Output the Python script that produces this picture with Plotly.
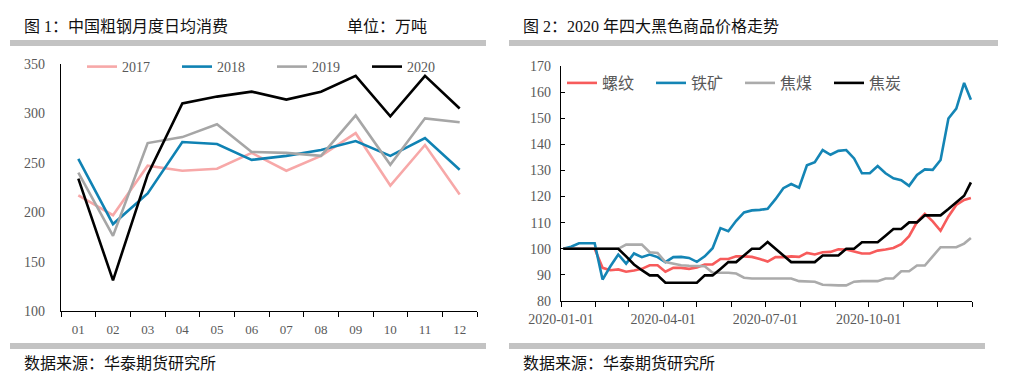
import pandas as pd
import plotly.graph_objects as go

# ---------------- data: figure 1 ----------------
months = ["01", "02", "03", "04", "05", "06", "07", "08", "09", "10", "11", "12"]
s2017 = [217, 197, 247, 242, 244, 260, 242, 257, 280, 227, 268, 218]
s2018 = [254, 188, 219, 271, 269, 253, 257, 263, 272, 257, 275, 243]
s2019 = [240, 176, 270, 276, 289, 261, 260, 257, 298, 248, 295, 291]
s2020 = [234, 131, 238, 310, 317, 322, 314, 322, 338, 297, 338, 305]

# ---------------- data: figure 2 ----------------
dates = list(pd.date_range("2020-01-03", "2020-12-25", freq="7D")) + [pd.Timestamp("2020-12-31")]
rebar = [100, 100, 100, 100, 100,
         92.7, 91.8, 92.1, 91.2, 91.7, 92.3, 93.7, 93.7, 91.2, 92.7, 92.7, 92.3, 92.8,
         94.0, 94.0, 96.1, 96.1, 97.1, 97.1, 96.9, 96.1, 95.1, 96.8, 96.8, 97.1, 96.9, 98.4, 97.8, 98.7, 98.8, 99.8,
         99.7, 99.0, 98.2, 98.2, 99.3, 99.7, 100.3, 101.8, 104.8, 110.2, 113.4, 110.5, 106.9, 112.4, 116.8, 118.7, 119.4]
iron = [100, 100.8, 102.1, 102.1, 102.1,
        88.2, 93.3, 97.8, 94.3, 98.2, 96.8, 97.8, 96.8, 94.9, 96.8, 96.9, 96.5, 95.0,
        97.1, 100.2, 107.9, 106.7, 110.7, 113.9, 114.7, 114.9, 115.3, 119.0, 123.2, 124.8, 123.4, 132.0, 133.2, 137.8, 136.0, 137.5,
        137.8, 134.6, 128.9, 128.9, 131.7, 128.9, 127.0, 126.3, 124.1, 128.3, 130.4, 130.2, 134.0, 149.9, 153.7, 163.5, 157.1]
coal = [100, 100, 100, 100, 100, 100, 100, 100,
        101.6, 101.6, 101.6, 98.7, 98.4, 94.9, 94.3, 93.7, 93.5, 93.5,
        93.3, 90.8, 90.8, 90.8, 90.5, 88.9, 88.6, 88.6, 88.6, 88.6, 88.6, 88.6, 87.6, 87.4, 87.4, 86.2, 86.0, 86.0,
        86.0, 87.4, 87.6, 87.6, 87.6, 88.6, 88.6, 91.4, 91.4, 93.6, 93.6, 97.1, 100.6, 100.6, 100.6, 102.0, 104.1]
coke = [100, 100, 100, 100, 100, 100, 100, 100,
        97.1, 94.0, 91.8, 89.8, 89.8, 87.0, 87.0, 87.0, 87.0, 87.0,
        89.8, 89.8, 92.3, 94.9, 94.9, 97.4, 100, 100, 102.6, 100, 97.4, 94.9, 94.9, 94.9, 94.9, 97.4, 97.4, 97.4,
        100, 100, 102.5, 102.5, 102.5, 105, 107.6, 107.6, 110.1, 110.1, 112.8, 112.8, 112.8, 115.2, 117.7, 120.3, 125.4]

q_ticks = ["2020-01-01", "2020-04-01", "2020-07-01", "2020-10-01"]

# page body has an 8px margin; figure occupies the rest of the 1030x388 window
OFF = 8
W, H = 1030 - OFF, 388 - OFF
def px(x):
    return (x - OFF) / W
def py(y):
    return 1 - (y - OFF) / H

FONT = "Liberation Serif, 'Noto Sans CJK SC', serif"
CJK = "'Noto Sans CJK SC', sans-serif"
LBL = "#595959"

fig = go.Figure()

c1 = {"2017": "#F7A8A8", "2018": "#0F82B3", "2019": "#A6A6A6", "2020": "#000000"}
for name, vals in [("2017", s2017), ("2018", s2018), ("2019", s2019), ("2020", s2020)]:
    fig.add_trace(go.Scatter(x=months, y=vals, mode="lines", name=name,
                             line=dict(color=c1[name], width=2.6),
                             xaxis="x", yaxis="y", legend="legend"))

c2 = {"螺纹": "#F75B5B", "铁矿": "#1485B5", "焦煤": "#ABABAB", "焦炭": "#000000"}
for name, vals in [("螺纹", rebar), ("铁矿", iron), ("焦煤", coal), ("焦炭", coke)]:
    fig.add_trace(go.Scatter(x=dates, y=vals, mode="lines", name=name,
                             line=dict(color=c2[name], width=2.6),
                             xaxis="x2", yaxis="y2", legend="legend2"))

axis_common = dict(showgrid=False, zeroline=False, showline=True, linecolor="#000000", linewidth=1.3,
                   automargin=False)

fig.update_layout(
    width=W, height=H, margin=dict(l=0, r=0, t=0, b=0, autoexpand=False),
    paper_bgcolor="white", plot_bgcolor="white",
    xaxis=dict(domain=[px(61), px(477)], anchor="y", type="category", range=[-0.5, 11.5],
               tickson="boundaries", ticks="outside", ticklen=5, tickcolor="#000000",
               ticklabelstandoff=6,
               tickfont=dict(family=FONT, size=13, color=LBL), **axis_common),
    yaxis=dict(domain=[py(311), py(64)], anchor="x", range=[100, 350], dtick=50,
               ticks="", ticklabelstandoff=12,
               tickfont=dict(family=FONT, size=14, color=LBL), **axis_common),
    xaxis2=dict(domain=[px(561), px(972)], anchor="y2", type="date",
                range=["2020-01-01", "2021-01-01"], tickmode="array", tickvals=q_ticks,
                tickformat="%Y-%m-%d", ticks="outside", ticklen=5, tickcolor="#000000",
                minor=dict(tickmode="linear", tick0="2020-01-01", dtick="M1",
                           ticks="outside", ticklen=5, tickcolor="#000000"),
                tickfont=dict(family=FONT, size=14, color=LBL), **axis_common),
    yaxis2=dict(domain=[py(301), py(66)], anchor="x2", range=[80, 170], dtick=10,
                ticks="inside", ticklen=4, tickcolor="#000000", ticklabelstandoff=6,
                tickfont=dict(family=FONT, size=14, color=LBL), **axis_common),
    legend=dict(orientation="h", x=px(82), y=py(67), xanchor="left", yanchor="middle",
                bgcolor="rgba(0,0,0,0)", entrywidth=50, entrywidthmode="pixels",
                font=dict(family=FONT, size=14, color=LBL), itemclick=False),
    legend2=dict(orientation="h", x=px(562), y=py(83), xanchor="left", yanchor="middle",
                 bgcolor="rgba(0,0,0,0)", entrywidth=44, entrywidthmode="pixels",
                 font=dict(family=CJK, size=16, color=LBL), itemclick=False),
    showlegend=True,
)

# header/footer gray bars
bars = [(10, 486, 40, 46), (509, 998, 40, 46), (10, 486, 343, 349), (509, 985, 343, 349)]
for x0, x1, y0, y1 in bars:
    fig.add_shape(type="rect", xref="paper", yref="paper", x0=px(x0), x1=px(x1), y0=py(y1), y1=py(y0),
                  fillcolor="#C3C3C3", line=dict(width=0), layer="below")

texts = [
    (22, 26, "图 1：中国粗钢月度日均消费"),
    (345, 26, "单位：万吨"),
    (521, 26, "图 2：2020 年四大黑色商品价格走势"),
    (22, 363, "数据来源：华泰期货研究所"),
    (521, 363, "数据来源：华泰期货研究所"),
]
for x, y, t in texts:
    fig.add_annotation(xref="paper", yref="paper", x=px(x), y=py(y), text=t, showarrow=False,
                       xanchor="left", yanchor="middle",
                       font=dict(family=FONT, size=16, color="#111111"))

fig.write_html("out.html")
